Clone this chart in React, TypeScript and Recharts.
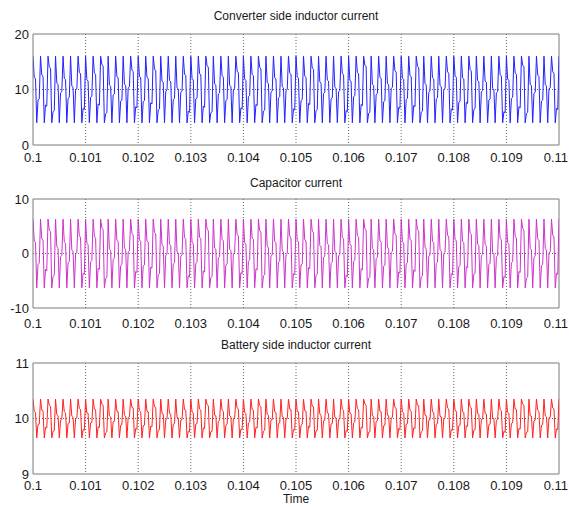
import React from 'react';
import { LineChart, Line, XAxis, YAxis, CartesianGrid, ReferenceLine } from 'recharts';

// sample window of every trace (s)
const T_START = 0.1;
const T_END = 0.11;

const X_TICKS = [0.1, 0.101, 0.102, 0.103, 0.104, 0.105, 0.106, 0.107, 0.108, 0.109, 0.11];

const converterTicks = [0, 10, 20];
const capacitorTicks = [-10, 0, 10];
const batteryTicks = [9, 10, 11];

// converter side inductor current (A), one switching period per line group
const converterCurrent = [
  16, 12.2, 11.9, 4, 8.1, 8.3, 16, 12.6, 12.4, 4, 7.2, 7.0, 16, 14.1, 13.8, 4, 6.0, 6.2, 16, 11.2, 10.9, 4, 9.4, 9.6,
  16, 12.0, 11.8, 4, 8.4, 8.6, 16, 10.6, 10.4, 4, 9.9, 10.1, 16, 13.1, 12.8, 4, 6.6, 6.4,
  16, 11.8, 11.5, 4, 8.6, 8.8, 16, 13.0, 12.7, 4, 7.4, 7.2, 16, 14.5, 14.2, 4, 5.6, 5.8, 16, 10.8, 10.6, 4, 9.0, 9.2,
  16, 12.3, 12.1, 4, 7.9, 8.1, 16, 11.0, 10.7, 4, 10.3, 10.5, 16, 13.5, 13.2, 4, 6.9, 6.7,
  16, 12.4, 12.1, 4, 7.8, 8.0, 16, 12.2, 12.0, 4, 7.6, 7.4, 16, 13.7, 13.4, 4, 6.3, 6.5, 16, 11.5, 11.3, 4, 9.7, 9.9,
  16, 11.6, 11.4, 4, 8.2, 8.4, 16, 10.3, 10.1, 4, 9.5, 9.7, 16, 12.8, 12.5, 4, 6.1, 5.9,
  16, 12.0, 11.7, 4, 8.3, 8.5, 16, 12.9, 12.6, 4, 7.0, 6.8, 16, 14.3, 14.0, 4, 5.8, 6.0, 16, 11.0, 10.8, 4, 9.2, 9.4,
  16, 12.5, 12.2, 4, 8.0, 8.2, 16, 10.8, 10.5, 4, 10.0, 10.2, 16, 13.3, 13.0, 4, 6.7, 6.5,
  16, 11.9, 11.6, 4, 8.7, 8.9, 16, 12.7, 12.5, 4, 7.3, 7.1, 16, 14.0, 13.7, 4, 6.1, 6.3, 16, 11.3, 11.0, 4, 9.5, 9.7,
  16, 12.1, 11.9, 4, 8.5, 8.7, 16, 10.5, 10.3, 4, 9.8, 10.0, 16, 13.0, 12.7, 4, 6.5, 6.3,
  16, 12.3, 12.0, 4, 8.0, 8.2, 16, 12.4, 12.2, 4, 7.5, 7.3, 16, 13.9, 13.6, 4, 6.2, 6.4, 16, 11.4, 11.1, 4, 9.3, 9.5,
  16, 11.7, 11.5, 4, 8.3, 8.5, 16, 10.4, 10.2, 4, 9.6, 9.8, 16, 12.9, 12.6, 4, 6.2, 6.0,
  16, 11.7, 11.4, 4, 8.7, 8.9, 16, 13.1, 12.8, 4, 7.3, 7.1, 16, 14.4, 14.1, 4, 5.7, 5.9, 16, 10.9, 10.7, 4, 9.1, 9.3,
  16, 12.2, 12.0, 4, 7.8, 8.0, 16, 11.1, 10.8, 4, 10.2, 10.4, 16, 13.4, 13.1, 4, 6.8, 6.6,
  16, 12.1, 11.8, 4, 8.2, 8.4, 16, 12.5, 12.3, 4, 7.1, 6.9, 16, 14.2, 13.9, 4, 5.9, 6.1, 16, 11.1, 10.8, 4, 9.5, 9.7,
  16, 12.1, 11.9, 4, 8.3, 8.5, 16, 10.7, 10.5, 4, 10.0, 10.2, 16, 13.2, 12.9, 4, 6.5, 6.3,
  16, 12.5, 12.2, 4, 7.7, 7.9, 16, 12.1, 11.9, 4, 7.7, 7.5, 16, 13.6, 13.3, 4, 6.4, 6.6, 16, 11.6, 11.4, 4, 9.6, 9.8,
  16, 11.5, 11.3, 4, 8.1, 8.3, 16, 10.2, 10.0, 4, 9.4, 9.6, 16, 12.7, 12.4, 4, 6.0, 5.8,
  16, 11.9, 11.6, 4, 8.4, 8.6, 16, 13.0, 12.7, 4, 6.9, 6.7, 16, 14.4, 14.1, 4, 5.7, 5.9, 16, 10.9, 10.7, 4, 9.3, 9.5,
  16, 12.6, 12.3, 4, 7.9, 8.1, 16, 10.9, 10.6, 4, 10.1, 10.3, 16, 13.2, 12.9, 4, 6.6, 6.4,
  16,
];

// capacitor current (A)
const capacitorCurrent = [
  6.3, 2.3, 2.0, -6.3, -2.0, -1.8, 6.3, 2.7, 2.5, -6.3, -2.9, -3.2, 6.3, 4.3, 4.0, -6.3, -4.2, -4.0, 6.3, 1.3, 0.9, -6.3, -0.6, -0.4,
  6.3, 2.1, 1.9, -6.3, -1.7, -1.5, 6.3, 0.6, 0.4, -6.3, -0.1, 0.1, 6.3, 3.3, 2.9, -6.3, -3.6, -3.8,
  6.3, 1.9, 1.6, -6.3, -1.5, -1.3, 6.3, 3.2, 2.8, -6.3, -2.7, -2.9, 6.3, 4.7, 4.4, -6.3, -4.6, -4.4, 6.3, 0.8, 0.6, -6.3, -1.1, -0.8,
  6.3, 2.4, 2.2, -6.3, -2.2, -2.0, 6.3, 1.0, 0.7, -6.3, 0.3, 0.5, 6.3, 3.7, 3.4, -6.3, -3.3, -3.5,
  6.3, 2.5, 2.2, -6.3, -2.3, -2.1, 6.3, 2.3, 2.1, -6.3, -2.5, -2.7, 6.3, 3.9, 3.6, -6.3, -3.9, -3.7, 6.3, 1.6, 1.4, -6.3, -0.3, -0.1,
  6.3, 1.7, 1.5, -6.3, -1.9, -1.7, 6.3, 0.3, 0.1, -6.3, -0.5, -0.3, 6.3, 2.9, 2.6, -6.3, -4.1, -4.3,
  6.3, 2.1, 1.8, -6.3, -1.8, -1.6, 6.3, 3.0, 2.7, -6.3, -3.2, -3.4, 6.3, 4.5, 4.2, -6.3, -4.4, -4.2, 6.3, 1.0, 0.8, -6.3, -0.8, -0.6,
  6.3, 2.6, 2.3, -6.3, -2.1, -1.9, 6.3, 0.8, 0.5, -6.3, 0.0, 0.2, 6.3, 3.5, 3.2, -6.3, -3.5, -3.7,
  6.3, 2.0, 1.7, -6.3, -1.4, -1.2, 6.3, 2.8, 2.6, -6.3, -2.8, -3.0, 6.3, 4.2, 3.9, -6.3, -4.1, -3.9, 6.3, 1.4, 1.0, -6.3, -0.5, -0.3,
  6.3, 2.2, 2.0, -6.3, -1.6, -1.4, 6.3, 0.5, 0.3, -6.3, -0.2, 0.0, 6.3, 3.2, 2.8, -6.3, -3.7, -3.9,
  6.3, 2.4, 2.1, -6.3, -2.1, -1.9, 6.3, 2.5, 2.3, -6.3, -2.6, -2.8, 6.3, 4.1, 3.8, -6.3, -4.0, -3.8, 6.3, 1.5, 1.2, -6.3, -0.7, -0.5,
  6.3, 1.8, 1.6, -6.3, -1.8, -1.6, 6.3, 0.4, 0.2, -6.3, -0.4, -0.2, 6.3, 3.0, 2.7, -6.3, -4.0, -4.2,
  6.3, 1.8, 1.5, -6.3, -1.4, -1.2, 6.3, 3.3, 2.9, -6.3, -2.8, -3.0, 6.3, 4.6, 4.3, -6.3, -4.5, -4.3, 6.3, 0.9, 0.7, -6.3, -0.9, -0.7,
  6.3, 2.3, 2.1, -6.3, -2.3, -2.1, 6.3, 1.2, 0.8, -6.3, 0.2, 0.4, 6.3, 3.6, 3.3, -6.3, -3.4, -3.6,
  6.3, 2.2, 1.9, -6.3, -1.9, -1.7, 6.3, 2.6, 2.4, -6.3, -3.0, -3.3, 6.3, 4.4, 4.1, -6.3, -4.3, -4.1, 6.3, 1.2, 0.8, -6.3, -0.5, -0.3,
  6.3, 2.2, 2.0, -6.3, -1.8, -1.6, 6.3, 0.7, 0.5, -6.3, 0.0, 0.2, 6.3, 3.4, 3.0, -6.3, -3.7, -3.9,
  6.3, 2.6, 2.3, -6.3, -2.4, -2.2, 6.3, 2.2, 2.0, -6.3, -2.4, -2.6, 6.3, 3.8, 3.5, -6.3, -3.8, -3.6, 6.3, 1.7, 1.5, -6.3, -0.4, -0.2,
  6.3, 1.6, 1.4, -6.3, -2.0, -1.8, 6.3, 0.2, 0.0, -6.3, -0.6, -0.4, 6.3, 2.8, 2.5, -6.3, -4.2, -4.4,
  6.3, 2.0, 1.7, -6.3, -1.7, -1.5, 6.3, 3.2, 2.8, -6.3, -3.3, -3.5, 6.3, 4.6, 4.3, -6.3, -4.5, -4.3, 6.3, 0.9, 0.7, -6.3, -0.7, -0.5,
  6.3, 2.7, 2.4, -6.3, -2.2, -2.0, 6.3, 0.9, 0.6, -6.3, 0.1, 0.3, 6.3, 3.4, 3.0, -6.3, -3.6, -3.8,
  6.3,
];

// battery side inductor current (A)
const batteryCurrent = [
  10.35, 10.13, 10.11, 9.65, 9.89, 9.9, 10.35, 10.15, 10.14, 9.65, 9.84, 9.83, 10.35, 10.24, 10.22, 9.65, 9.77, 9.78, 10.35, 10.07, 10.05, 9.65, 9.97, 9.98,
  10.35, 10.12, 10.1, 9.65, 9.91, 9.92, 10.35, 10.04, 10.02, 9.65, 9.99, 10.01, 10.35, 10.18, 10.16, 9.65, 9.8, 9.79,
  10.35, 10.1, 10.09, 9.65, 9.92, 9.93, 10.35, 10.17, 10.16, 9.65, 9.85, 9.84, 10.35, 10.26, 10.24, 9.65, 9.74, 9.76, 10.35, 10.05, 10.03, 9.65, 9.94, 9.95,
  10.35, 10.13, 10.12, 9.65, 9.88, 9.89, 10.35, 10.06, 10.04, 9.65, 10.02, 10.03, 10.35, 10.2, 10.19, 9.65, 9.82, 9.81,
  10.35, 10.14, 10.12, 9.65, 9.87, 9.88, 10.35, 10.13, 10.12, 9.65, 9.86, 9.85, 10.35, 10.21, 10.2, 9.65, 9.79, 9.8, 10.35, 10.09, 10.08, 9.65, 9.98, 9.99,
  10.35, 10.09, 10.08, 9.65, 9.9, 9.91, 10.35, 10.02, 10.01, 9.65, 9.97, 9.98, 10.35, 10.16, 10.15, 9.65, 9.77, 9.76,
  10.35, 10.12, 10.1, 9.65, 9.9, 9.91, 10.35, 10.17, 10.15, 9.65, 9.83, 9.82, 10.35, 10.25, 10.23, 9.65, 9.76, 9.77, 10.35, 10.06, 10.05, 9.65, 9.95, 9.97,
  10.35, 10.15, 10.13, 9.65, 9.88, 9.9, 10.35, 10.05, 10.03, 9.65, 10.0, 10.01, 10.35, 10.19, 10.17, 9.65, 9.81, 9.8,
  10.35, 10.11, 10.09, 9.65, 9.92, 9.94, 10.35, 10.16, 10.15, 9.65, 9.84, 9.83, 10.35, 10.23, 10.21, 9.65, 9.77, 9.79, 10.35, 10.08, 10.06, 9.65, 9.97, 9.98,
  10.35, 10.12, 10.11, 9.65, 9.91, 9.92, 10.35, 10.03, 10.02, 9.65, 9.99, 10.0, 10.35, 10.17, 10.16, 9.65, 9.8, 9.79,
  10.35, 10.13, 10.12, 9.65, 9.88, 9.9, 10.35, 10.14, 10.13, 9.65, 9.86, 9.84, 10.35, 10.22, 10.21, 9.65, 9.78, 9.79, 10.35, 10.08, 10.06, 9.65, 9.96, 9.97,
  10.35, 10.1, 10.09, 9.65, 9.9, 9.91, 10.35, 10.02, 10.01, 9.65, 9.98, 9.99, 10.35, 10.17, 10.15, 9.65, 9.78, 9.77,
  10.35, 10.1, 10.08, 9.65, 9.92, 9.94, 10.35, 10.18, 10.16, 9.65, 9.84, 9.83, 10.35, 10.26, 10.24, 9.65, 9.75, 9.76, 10.35, 10.05, 10.04, 9.65, 9.95, 9.96,
  10.35, 10.13, 10.12, 9.65, 9.87, 9.88, 10.35, 10.06, 10.05, 9.65, 10.01, 10.02, 10.35, 10.2, 10.18, 9.65, 9.82, 9.8,
  10.35, 10.12, 10.1, 9.65, 9.9, 9.91, 10.35, 10.15, 10.13, 9.65, 9.83, 9.82, 10.35, 10.24, 10.23, 9.65, 9.76, 9.78, 10.35, 10.06, 10.05, 9.65, 9.97, 9.98,
  10.35, 10.12, 10.11, 9.65, 9.9, 9.91, 10.35, 10.04, 10.03, 9.65, 10.0, 10.01, 10.35, 10.19, 10.17, 9.65, 9.8, 9.79,
  10.35, 10.15, 10.13, 9.65, 9.87, 9.88, 10.35, 10.12, 10.11, 9.65, 9.87, 9.86, 10.35, 10.21, 10.19, 9.65, 9.79, 9.8, 10.35, 10.09, 10.08, 9.65, 9.98, 9.99,
  10.35, 10.09, 10.08, 9.65, 9.89, 9.9, 10.35, 10.01, 10.0, 9.65, 9.97, 9.98, 10.35, 10.16, 10.14, 9.65, 9.77, 9.75,
  10.35, 10.11, 10.09, 9.65, 9.91, 9.92, 10.35, 10.17, 10.16, 9.65, 9.82, 9.81, 10.35, 10.26, 10.24, 9.65, 9.75, 9.76, 10.35, 10.05, 10.04, 9.65, 9.96, 9.97,
  10.35, 10.15, 10.13, 9.65, 9.88, 9.89, 10.35, 10.05, 10.03, 9.65, 10.01, 10.02, 10.35, 10.19, 10.17, 9.65, 9.81, 9.8,
  10.35,
];

const FONT = '"Liberation Sans", Arial, sans-serif';
const frameColor = '#7a7a7a';
const gridColor = '#666';
const textColor = '#1a1a1a';

const toRows = (vals: number[]) =>
  vals.map((v, i) => ({ t: T_START + (i * (T_END - T_START)) / (vals.length - 1), v }));

const fmtTime = (v: number) => String(Number(v.toFixed(3)));

// last label ("0.11") is pulled in so it is not clipped at the right edge
const XTick = (props: any) => {
  const { x, y, payload } = props;
  const last = payload.value >= T_END - 1e-9;
  return (
    <text
      x={last ? 568 : x}
      y={y}
      dy="0.71em"
      textAnchor={last ? 'end' : 'middle'}
      fill={textColor}
      fontSize={13}
      fontFamily={FONT}
    >
      {fmtTime(payload.value)}
    </text>
  );
};

interface PanelProps {
  top: number;
  height: number;
  marginTop: number;
  marginBottom: number;
  labelGap: number;
  values: number[];
  color: string;
  yTicks: number[];
}

const Panel: React.FC<PanelProps> = ({ top, height, marginTop, marginBottom, labelGap, values, color, yTicks }) => {
  const data = toRows(values);
  const yDomain: [number, number] = [yTicks[0], yTicks[yTicks.length - 1]];
  return (
    <div style={{ position: 'absolute', left: 0, top }}>
      <LineChart width={569} height={height} data={data} margin={{ top: marginTop, right: 10, left: 0, bottom: marginBottom }}>
        <CartesianGrid stroke={gridColor} strokeDasharray="1 2" horizontalValues={[yTicks[1]]} verticalValues={X_TICKS.slice(1, -1)} />
        <XAxis
          dataKey="t"
          type="number"
          domain={[T_START, T_END]}
          ticks={X_TICKS}
          interval={0}
          height={20}
          tickSize={0}
          tickMargin={labelGap}
          tick={<XTick />}
          stroke={frameColor}
          allowDataOverflow
        />
        <YAxis
          type="number"
          domain={yDomain}
          ticks={yTicks}
          width={33}
          tickSize={0}
          tickMargin={4}
          tick={{ fill: textColor, fontSize: 13, fontFamily: FONT }}
          stroke={frameColor}
          allowDataOverflow
        />
        <ReferenceLine y={yDomain[1]} stroke={frameColor} />
        <ReferenceLine x={T_END} stroke={frameColor} />
        <Line type="linear" dataKey="v" stroke={color} strokeWidth={1} dot={false} isAnimationActive={false} />
      </LineChart>
    </div>
  );
};

const titleStyle = (top: number, lineHeight = 14): React.CSSProperties => ({
  position: 'absolute',
  left: 33,
  width: 526,
  top,
  textAlign: 'center',
  fontFamily: FONT,
  fontSize: 12,
  lineHeight: `${lineHeight}px`,
  color: textColor,
});

export default function App() {
  return (
    <div style={{ position: 'absolute', left: 0, top: 0, width: 569, height: 507, background: '#fff' }}>
      <div style={titleStyle(9)}>Converter side inductor current</div>
      <Panel top={0} height={170} marginTop={34} marginBottom={5} labelGap={8} values={converterCurrent} color="#2222ff" yTicks={converterTicks} />
      <div style={titleStyle(176)}>Capacitor current</div>
      <Panel top={170} height={165} marginTop={29} marginBottom={7} labelGap={11} values={capacitorCurrent} color="#cc33cc" yTicks={capacitorTicks} />
      <div style={titleStyle(338)}>Battery side inductor current</div>
      <Panel top={335} height={172} marginTop={28} marginBottom={13} labelGap={7} values={batteryCurrent} color="#ff2222" yTicks={batteryTicks} />
      <div style={titleStyle(493, 12)}>Time</div>
    </div>
  );
}
